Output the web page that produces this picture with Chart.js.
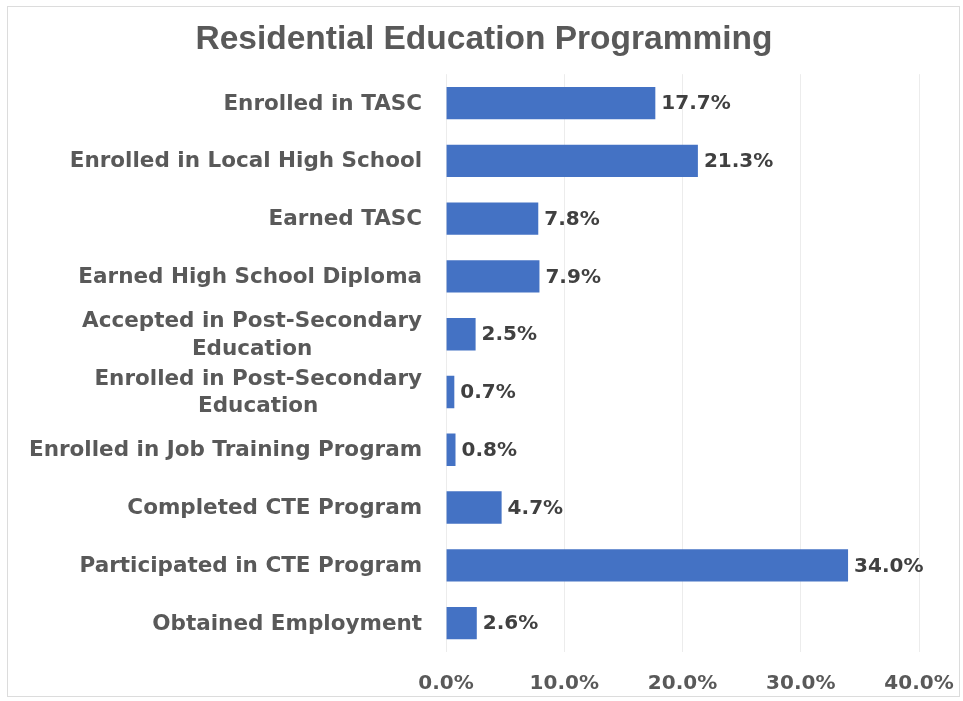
<!DOCTYPE html>
<html>
<head>
<meta charset="utf-8">
<script src="https://cdn.jsdelivr.net/npm/chart.js@4/dist/chart.umd.min.js"></script>
<style>
  html, body { margin: 0; padding: 0; background: #fff; }
  #wrap { position: absolute; left: 0; top: 0; width: 963px; height: 701px; }
  #frame { position: absolute; left: 7px; top: 6px; width: 953px; height: 691px; border: 1px solid #dcdcdc; box-sizing: border-box; pointer-events: none; }
</style>
</head>
<body>
<div id="wrap">
  <canvas id="c" width="963" height="701"></canvas>
  <div id="frame"></div>
</div>
<script>
const titleText = "Residential Education Programming";
const categories = [
  "Enrolled in TASC",
  "Enrolled in Local High School",
  "Earned TASC",
  "Earned High School Diploma",
  ["Accepted in Post-Secondary", "Education"],
  ["Enrolled in Post-Secondary", "Education"],
  "Enrolled in Job Training Program",
  "Completed CTE Program",
  "Participated in CTE Program",
  "Obtained Employment"
];
const values = [17.7, 21.3, 7.8, 7.9, 2.5, 0.7, 0.8, 4.7, 34.0, 2.6];
const xTicks = [0, 10, 20, 30, 40];

const TITLE_FONT = "'Liberation Sans', Arial, sans-serif";
const FONT = "'DejaVu Sans', sans-serif";
const LABEL_SIZE = 21.5;
const LABEL_LH = 1.28;

const valueLabels = {
  id: 'valueLabels',
  afterDatasetsDraw(chart) {
    const ctx = chart.ctx;
    const meta = chart.getDatasetMeta(0);
    ctx.save();
    ctx.font = "bold 20px " + FONT;
    ctx.fillStyle = "#404040";
    ctx.textAlign = "left";
    ctx.textBaseline = "middle";
    meta.data.forEach((bar, i) => {
      ctx.fillText(values[i].toFixed(1) + "%", bar.x + 6, bar.y + 1);
    });
    ctx.restore();
  }
};

const categoryLabels = {
  id: 'categoryLabels',
  afterDraw(chart) {
    const ctx = chart.ctx;
    const yScale = chart.scales.y;
    const right = chart.chartArea.left - 24;
    const lh = LABEL_SIZE * LABEL_LH;
    ctx.save();
    ctx.font = "bold " + LABEL_SIZE + "px " + FONT;
    ctx.fillStyle = "#595959";
    ctx.textBaseline = "middle";
    categories.forEach((lab, i) => {
      const lines = Array.isArray(lab) ? lab : [lab];
      const yc = yScale.getPixelForValue(i);
      const widths = lines.map(l => ctx.measureText(l).width);
      const maxW = Math.max(...widths);
      const blockCenter = right - maxW / 2;
      const y0 = yc - (lines.length - 1) * lh / 2;
      lines.forEach((l, j) => {
        ctx.textAlign = "center";
        ctx.fillText(l, blockCenter, y0 + j * lh + 1);
      });
    });
    ctx.restore();
  }
};

new Chart(document.getElementById('c'), {
  type: 'bar',
  data: {
    labels: categories,
    datasets: [{
      data: values,
      backgroundColor: '#4472C4',
      borderWidth: 0,
      barPercentage: 0.56,
      categoryPercentage: 1.0
    }]
  },
  options: {
    indexAxis: 'y',
    responsive: false,
    animation: false,
    layout: { padding: { left: 5, right: 0, top: 9, bottom: -15 } },
    plugins: {
      legend: { display: false },
      tooltip: { enabled: false },
      title: {
        display: true,
        text: titleText,
        color: '#595959',
        font: { family: TITLE_FONT, size: 33.5, weight: 'bold' },
        padding: { top: 11, bottom: 14 }
      }
    },
    scales: {
      x: {
        min: 0,
        max: 40,
        afterBuildTicks(scale) { scale.ticks = xTicks.map(v => ({ value: v })); },
        afterFit(scale) { scale.paddingRight = 44; },
        ticks: {
          color: '#595959',
          font: { family: FONT, size: 20, weight: 'bold' },
          padding: 20,
          callback: v => Number(v).toFixed(1) + '%'
        },
        grid: { color: '#ececec', lineWidth: 1, drawTicks: false },
        border: { display: false }
      },
      y: {
        ticks: {
          color: 'rgba(0,0,0,0)',
          font: { family: FONT, size: LABEL_SIZE, weight: 'bold', lineHeight: LABEL_LH },
          padding: 24
        },
        grid: { display: false, drawTicks: false },
        border: { display: false }
      }
    }
  },
  plugins: [valueLabels, categoryLabels]
});
</script>
</body>
</html>
